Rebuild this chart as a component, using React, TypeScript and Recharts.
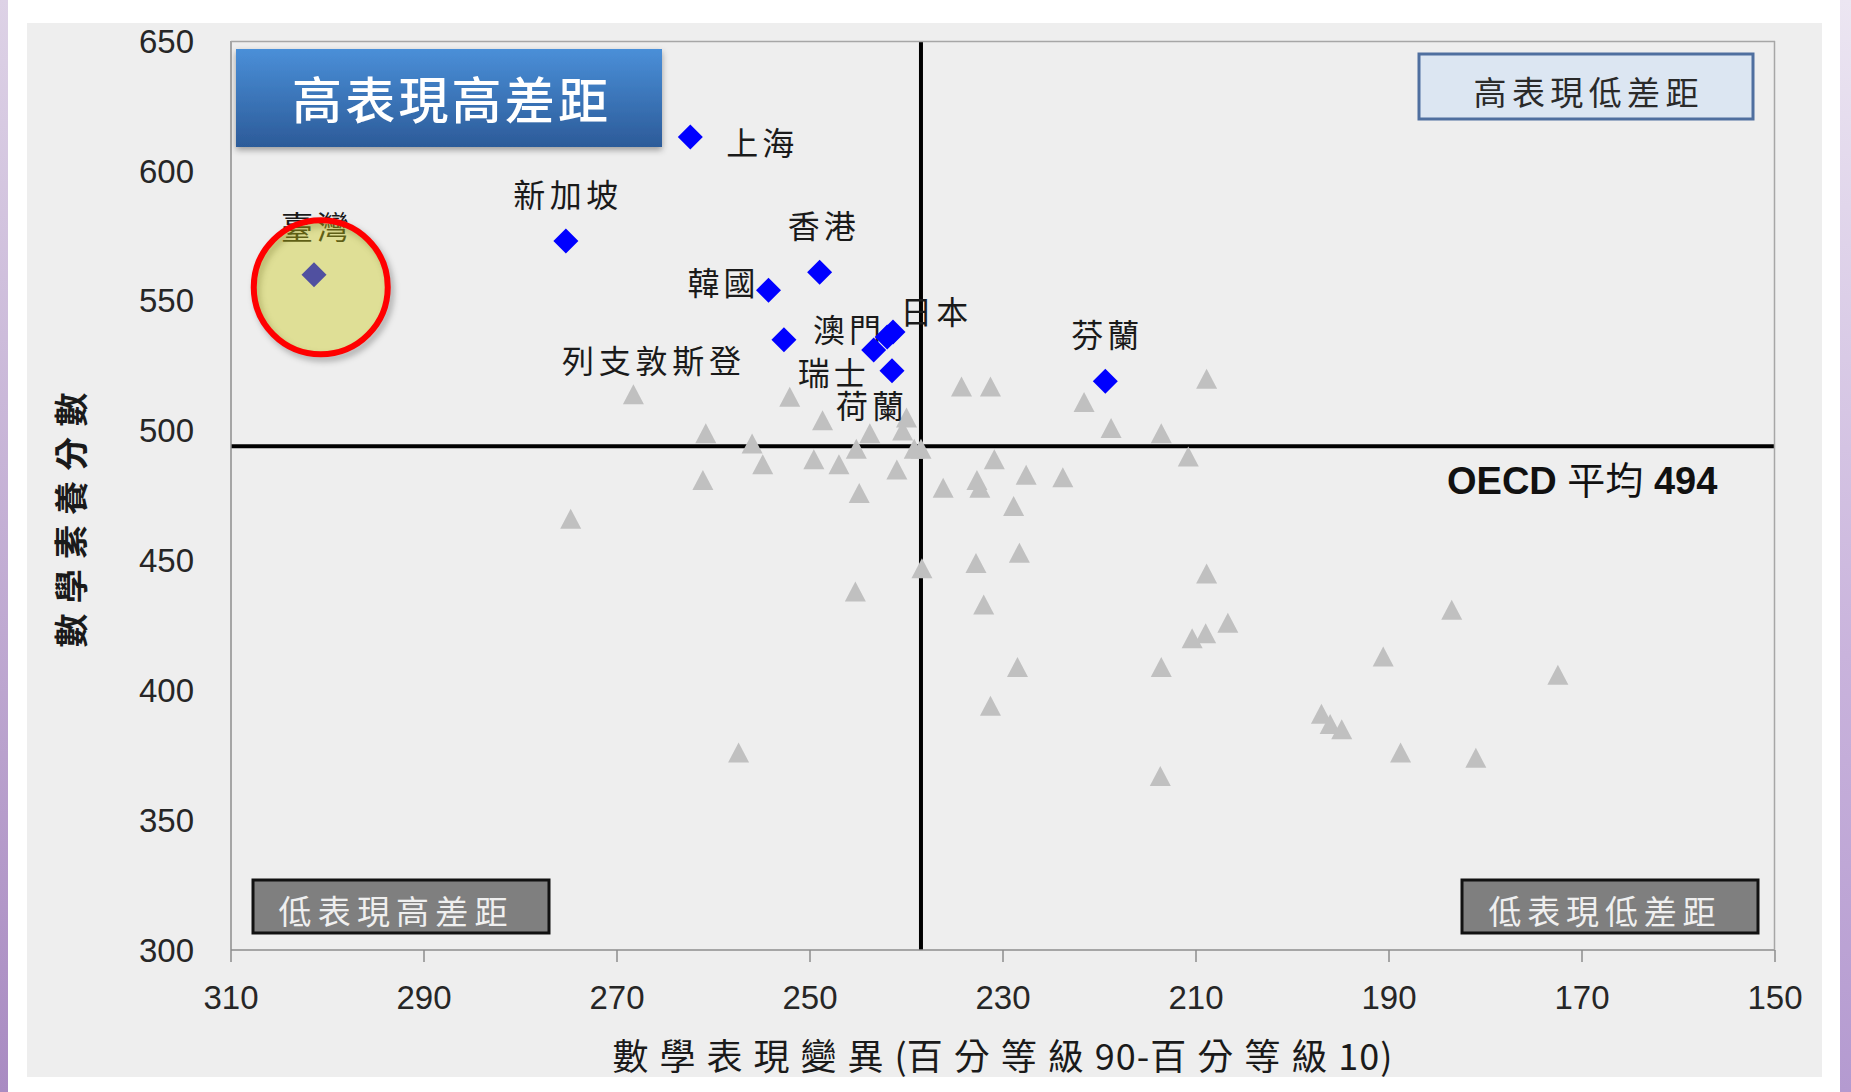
import { ScatterChart, Scatter, XAxis, YAxis, ReferenceLine } from "recharts";

// 高表現國家（藍色菱形）
const highNames = ["上海", "新加坡", "臺灣", "香港", "韓國", "澳門", "日本", "列支敦斯登", "瑞士", "荷蘭", "芬蘭"];
const highSpread = [262.4, 275.3, 301.4, 249.0, 254.3, 241.4, 242.0, 252.7, 243.4, 241.5, 219.4];
const highScore = [613, 573, 560, 561, 554, 538, 536, 535, 531, 523, 519];

// 其他國家（灰色三角形）
const otherSpread = [
  268.3, 252.1, 248.7, 260.8, 256.0, 243.8, 240.4, 240.0, 245.2, 254.9,
  249.6, 247.0, 241.0, 261.1, 244.9, 274.8, 234.3, 231.3, 221.6, 208.9,
  218.8, 213.6, 239.2, 238.5, 230.9, 236.2, 232.7, 232.4, 227.6, 223.8,
  228.9, 238.4, 232.8, 228.3, 210.8, 208.9, 245.3, 257.4, 232.0, 206.7,
  209.0, 210.4, 228.5, 213.6, 231.3, 213.7, 183.5, 190.6, 172.5, 197.0,
  196.1, 194.9, 188.8, 181.0,
];
const otherScore = [
  514, 513, 504, 499, 495, 499, 500, 505, 493, 487,
  489, 487, 485, 481, 476, 466, 517, 517, 511, 520,
  501, 499, 493, 493, 489, 478, 481, 478, 483, 482,
  471, 447, 449, 453, 490, 445, 438, 376, 433, 426,
  422, 420, 409, 409, 394, 367, 431, 413, 406, 391,
  387, 385, 376, 374,
];

// OECD 平均
const oecdMean = 494;
const oecdSpread = 238.5;

// 臺灣標示圈
const highlightSpread = [300.7];
const highlightScore = [555.2];

const xTicks = [310, 290, 270, 250, 230, 210, 190, 170, 150];
const yTicks = [300, 350, 400, 450, 500, 550, 600, 650];

const highData = highNames.map((name, i) => ({ name, x: highSpread[i], y: highScore[i] }));
const otherData = otherSpread.map((x, i) => ({ x, y: otherScore[i] }));
const highlightData = highlightSpread.map((x, i) => ({ x, y: highlightScore[i] }));

const cjk = '"Noto Sans CJK TC", "Noto Sans CJK SC", sans-serif';
const latin = '"Liberation Sans", Arial, sans-serif';

const labelPlacement: Record<string, { dx: number; dy: number; anchor: "start" | "middle" | "end" }> = {
  上海: { dx: 36, dy: 4, anchor: "start" },
  新加坡: { dx: 0, dy: -48, anchor: "middle" },
  臺灣: { dx: 1, dy: -50, anchor: "middle" },
  香港: { dx: 2, dy: -48, anchor: "middle" },
  韓國: { dx: -13, dy: -9, anchor: "end" },
  澳門: { dx: -12, dy: -4, anchor: "end" },
  日本: { dx: 13, dy: -27, anchor: "start" },
  列支敦斯登: { dx: -43, dy: 19, anchor: "end" },
  瑞士: { dx: -8, dy: 21, anchor: "end" },
  荷蘭: { dx: -22, dy: 33, anchor: "middle" },
  芬蘭: { dx: 0, dy: -48, anchor: "middle" },
};

function Triangle(props: any) {
  const { cx, cy } = props;
  return (
    <polygon
      points={`${cx},${cy - 10} ${cx + 10.5},${cy + 10} ${cx - 10.5},${cy + 10}`}
      fill="#c0c0c0"
    />
  );
}

function CountryMark(props: any) {
  const { cx, cy, payload } = props;
  const place = labelPlacement[payload.name];
  const r = 12.5;
  return (
    <g>
      <polygon
        points={`${cx},${cy - r} ${cx + r},${cy} ${cx},${cy + r} ${cx - r},${cy}`}
        fill="#0000ff"
      />
      <text
        x={cx + place.dx}
        y={cy + place.dy}
        textAnchor={place.anchor}
        dominantBaseline="central"
        fontSize={32}
        fontFamily={cjk}
        fill="#1a1a1a"
        textLength={payload.name.length * 37 - 6}
        lengthAdjust="spacing"
      >
        {payload.name}
      </text>
    </g>
  );
}

function HighlightRing(props: any) {
  const { cx, cy } = props;
  return (
    <g>
      <circle cx={cx + 3} cy={cy + 4} r={67} fill="none" stroke="rgba(0,0,0,0.3)" strokeWidth={6} filter="url(#ringBlur)" />
      <circle cx={cx} cy={cy} r={67} fill="rgba(200,200,17,0.4)" stroke="#ff0000" strokeWidth={6} />
    </g>
  );
}

export default function App() {
  return (
    <div style={{ position: "relative", width: 1851, height: 1092, background: "#fff", overflow: "hidden" }}>
      <style>{"body{margin:0}"}</style>
      <svg width={1851} height={1092} style={{ position: "absolute", left: 0, top: 0 }}>
        <defs>
          <linearGradient id="edgeL" x1="0" y1="0" x2="0" y2="1">
            <stop offset="0" stopColor="#ddd2e6" />
            <stop offset="1" stopColor="#a98bc2" />
          </linearGradient>
          <linearGradient id="edgeR" x1="0" y1="0" x2="0" y2="1">
            <stop offset="0" stopColor="#ece6f2" />
            <stop offset="0.6" stopColor="#c9b3dc" />
            <stop offset="1" stopColor="#b49ad0" />
          </linearGradient>
        </defs>
        <rect x={0} y={0} width={8} height={1092} fill="url(#edgeL)" />
        <rect x={1840} y={0} width={11} height={1092} fill="url(#edgeR)" />
        <rect x={27} y={23} width={1795} height={1054} fill="#eeeeee" />
      </svg>

      <div style={{ position: "absolute", left: 0, top: 0 }}>
        <ScatterChart width={1851} height={1092} margin={{ top: 41, right: 76, left: 0, bottom: 0 }}>
          <XAxis
            type="number"
            dataKey="x"
            domain={[150, 310]}
            ticks={xTicks}
            interval={0}
            reversed
            height={142}
            tickSize={12}
            tickMargin={24}
            axisLine={{ stroke: "#8c8c8c", strokeWidth: 1.5 }}
            tickLine={{ stroke: "#8c8c8c", strokeWidth: 1.5 }}
            tick={{ fill: "#262626", fontSize: 33, fontFamily: latin }}
          />
          <YAxis
            type="number"
            dataKey="y"
            domain={[300, 650]}
            ticks={yTicks}
            interval={0}
            width={231}
            tickSize={0}
            tickMargin={37}
            tickLine={false}
            axisLine={{ stroke: "#8c8c8c", strokeWidth: 1.5 }}
            tick={{ fill: "#262626", fontSize: 33, fontFamily: latin }}
          />
          <ReferenceLine x={oecdSpread} stroke="#000" strokeWidth={4} />
          <ReferenceLine y={oecdMean} stroke="#000" strokeWidth={4} />
          <Scatter data={otherData} shape={Triangle} isAnimationActive={false} />
          <Scatter data={highData} shape={CountryMark} isAnimationActive={false} />
          <Scatter data={highlightData} shape={HighlightRing} isAnimationActive={false} />
        </ScatterChart>
      </div>

      <svg width={1851} height={1092} style={{ position: "absolute", left: 0, top: 0, pointerEvents: "none" }}>
        <defs>
          <linearGradient id="blueBox" x1="0" y1="0" x2="0" y2="1">
            <stop offset="0" stopColor="#4a8fd8" />
            <stop offset="1" stopColor="#2c5b99" />
          </linearGradient>
          <filter id="boxShadow" x="-10%" y="-20%" width="120%" height="150%">
            <feDropShadow dx="0" dy="3" stdDeviation="3" floodColor="#000" floodOpacity="0.35" />
          </filter>
          <filter id="ringBlur" x="-20%" y="-20%" width="140%" height="140%">
            <feGaussianBlur stdDeviation="3" />
          </filter>
        </defs>

        <line x1={231} y1={41.5} x2={1775} y2={41.5} stroke="#a6a6a6" strokeWidth={1.5} />
        <line x1={1774.5} y1={41} x2={1774.5} y2={950} stroke="#a6a6a6" strokeWidth={1.5} />

        <rect x={236} y={49} width={426} height={98} fill="url(#blueBox)" filter="url(#boxShadow)" />
        <text x={450} y={97} textAnchor="middle" dominantBaseline="central" fontSize={50} fontWeight={500}
          fontFamily={cjk} fill="#fff" textLength={316} lengthAdjust="spacing">高表現高差距</text>

        <rect x={1419} y={54} width={334} height={65} fill="#dce6f2" stroke="#4f6f9f" strokeWidth={3} />
        <text x={1586} y={91} textAnchor="middle" dominantBaseline="central" fontSize={33}
          fontFamily={cjk} fill="#2a2a2a" textLength={225} lengthAdjust="spacing">高表現低差距</text>

        <rect x={253} y={880} width={296} height={53} fill="#7f7f7f" stroke="#111" strokeWidth={3} />
        <text x={393} y={910} textAnchor="middle" dominantBaseline="central" fontSize={33}
          fontFamily={cjk} fill="#efefef" textLength={229} lengthAdjust="spacing">低表現高差距</text>

        <rect x={1462} y={880} width={296} height={53} fill="#7f7f7f" stroke="#111" strokeWidth={3} />
        <text x={1602} y={910} textAnchor="middle" dominantBaseline="central" fontSize={33}
          fontFamily={cjk} fill="#efefef" textLength={227} lengthAdjust="spacing">低表現低差距</text>

        <text x={1447} y={494} fontSize={38} fill="#111">
          <tspan fontFamily={latin} fontWeight="bold">OECD </tspan>
          <tspan fontFamily={cjk}>平均</tspan>
          <tspan fontFamily={latin} fontWeight="bold"> 494</tspan>
        </text>

        <text transform="translate(69,520) rotate(-90)" textAnchor="middle" dominantBaseline="central"
          fontSize={34} fontWeight="bold" fontFamily={cjk} fill="#1a1a1a" textLength={255} lengthAdjust="spacing">
          數學素養分數
        </text>
        <text x={1003} y={1054} textAnchor="middle" dominantBaseline="central" fontSize={36}
          fontFamily={cjk} fill="#1a1a1a">
          <tspan letterSpacing={11}>數學表現變異</tspan>
          <tspan>(</tspan>
          <tspan letterSpacing={11}>百分等級</tspan>
          <tspan letterSpacing={1}>90-</tspan>
          <tspan letterSpacing={11}>百分等級</tspan>
          <tspan letterSpacing={1}>10)</tspan>
        </text>
      </svg>
    </div>
  );
}
